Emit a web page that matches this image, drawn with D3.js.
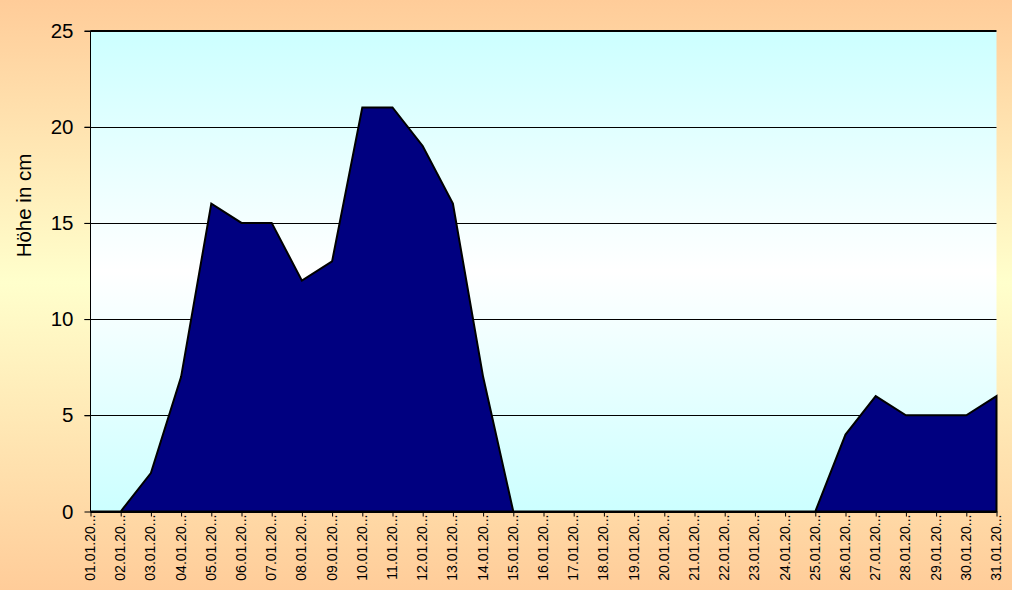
<!DOCTYPE html>
<html><head><meta charset="utf-8">
<script src="https://cdn.jsdelivr.net/npm/d3@7"></script>
<style>html,body{margin:0;padding:0;overflow:hidden;}svg{display:block;}</style>
</head><body>
<script>
const categories = ["01.01.20...","02.01.20...","03.01.20...","04.01.20...","05.01.20...","06.01.20...","07.01.20...","08.01.20...","09.01.20...","10.01.20...","11.01.20...","12.01.20...","13.01.20...","14.01.20...","15.01.20...","16.01.20...","17.01.20...","18.01.20...","19.01.20...","20.01.20...","21.01.20...","22.01.20...","23.01.20...","24.01.20...","25.01.20...","26.01.20...","27.01.20...","28.01.20...","29.01.20...","30.01.20...","31.01.20..."];
const values = [0,0,2,7,16,15,15,12,13,21,21,19,16,7,0,0,0,0,0,0,0,0,0,0,0,4,6,5,5,5,6];
const yTicks = [0,5,10,15,20,25];
const yTitle = "Höhe in cm";

const W=1012,H=590;
const L=90.5,R=996.5,T=30.5,B=511.5;
const svg=d3.select("body").append("svg").attr("width",W).attr("height",H);
const defs=svg.append("defs");
const bg=defs.append("linearGradient").attr("id","bg").attr("x1",0).attr("y1",0).attr("x2",0).attr("y2",1);
bg.append("stop").attr("offset","0%").attr("stop-color","#FFCC99");
bg.append("stop").attr("offset","48%").attr("stop-color","#FFFFCC");
bg.append("stop").attr("offset","100%").attr("stop-color","#FFCC99");
const pg=defs.append("linearGradient").attr("id","pg").attr("x1",0).attr("y1",0).attr("x2",0).attr("y2",1);
pg.append("stop").attr("offset","0%").attr("stop-color","#CCFFFF");
pg.append("stop").attr("offset","50%").attr("stop-color","#FFFFFF");
pg.append("stop").attr("offset","100%").attr("stop-color","#CCFFFF");

svg.append("rect").attr("width",W).attr("height",H).attr("fill","url(#bg)");

const x=d3.scalePoint().domain(categories).range([L,R]);
const y=d3.scaleLinear().domain([0,25]).range([B,T]);

svg.append("rect").attr("x",L).attr("y",T).attr("width",R-L).attr("height",B-T).attr("fill","url(#pg)");

// gridlines
svg.append("g").selectAll("line").data(yTicks.filter(d=>d>0)).join("line")
  .attr("x1",L-6).attr("x2",R).attr("y1",d=>Math.round(y(d))+0.5).attr("y2",d=>Math.round(y(d))+0.5)
  .attr("stroke","#000").attr("stroke-width",1);

// area
const area=d3.area().x((d,i)=>x(categories[i])).y0(y(0)).y1(d=>y(d));
svg.append("path").datum(values).attr("d",area).attr("fill","#000080").attr("stroke","#000").attr("stroke-width",2).attr("stroke-linejoin","miter");

// left axis line
svg.append("line").attr("x1",L).attr("x2",L).attr("y1",T).attr("y2",B).attr("stroke","#000");
// y axis
const ya=svg.append("g").attr("transform",`translate(${L},0)`).call(d3.axisLeft(y).tickValues(yTicks).tickSize(6).tickPadding(11));
ya.select(".domain").remove();
ya.selectAll("line").attr("stroke","#000");
ya.selectAll("text").attr("font-family","Liberation Sans, Arial, sans-serif").attr("font-size",20.5).attr("fill","#000");

// bottom axis
const xa=svg.append("g").attr("transform",`translate(0,${B})`).call(d3.axisBottom(x).tickSize(5).tickPadding(6));
xa.select(".domain").attr("d",`M${L},0.5H${R}`).attr("stroke","#000").attr("stroke-width",2);
xa.selectAll("line").attr("stroke","#000");
xa.selectAll("text").attr("font-family","Liberation Sans, Arial, sans-serif").attr("font-size",14).attr("fill","#000")
  .attr("transform","rotate(-90)").attr("text-anchor","end").attr("x",-3).attr("y",-1).attr("dy","0.35em");

// top border
svg.append("line").attr("x1",L).attr("x2",R).attr("y1",T).attr("y2",T).attr("stroke","#000");

// y title
svg.append("text").attr("transform","translate(31,205.5) rotate(-90)").attr("text-anchor","middle")
  .attr("font-family","Liberation Sans, Arial, sans-serif").attr("font-size",20.5).text(yTitle);
</script>
</body></html>
